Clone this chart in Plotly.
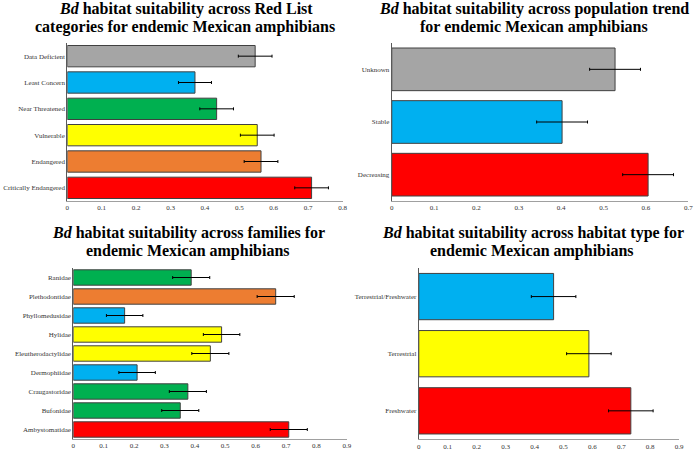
import plotly.graph_objects as go

GRAY = "#a5a5a5"; BLUE = "#00b0f0"; GREEN = "#00b050"; YELLOW = "#ffff00"; ORANGE = "#ed7d31"; RED = "#ff0000"

# Panel 1: Red List categories (bottom to top)
redlist_cats = ["Critically Endangered", "Endangered", "Vulnerable", "Near Threatened", "Least Concern", "Data Deficient"]
redlist_vals = [0.710, 0.563, 0.552, 0.434, 0.371, 0.546]
redlist_err = [0.049, 0.049, 0.049, 0.049, 0.048, 0.049]
redlist_cols = [RED, ORANGE, YELLOW, GREEN, BLUE, GRAY]

# Panel 2: population trend
trend_cats = ["Decreasing", "Stable", "Unknown"]
trend_vals = [0.605, 0.402, 0.527]
trend_err = [0.060, 0.060, 0.060]
trend_cols = [RED, BLUE, GRAY]

# Panel 3: families
fam_cats = ["Ambystomatidae", "Bufonidae", "Craugastoridae", "Dermophiidae", "Eleutherodactylidae",
            "Hylidae", "Phyllomedusidae", "Plethodontidae", "Ranidae"]
fam_vals = [0.709, 0.352, 0.377, 0.210, 0.451, 0.488, 0.169, 0.666, 0.388]
fam_err = [0.061, 0.061, 0.061, 0.060, 0.061, 0.060, 0.060, 0.061, 0.061]
fam_cols = [RED, GREEN, GREEN, BLUE, YELLOW, YELLOW, BLUE, ORANGE, GREEN]

# Panel 4: habitat type
hab_cats = ["Freshwater", "Terrestrial", "Terrestrial/Freshwater"]
hab_vals = [0.733, 0.588, 0.466]
hab_err = [0.077, 0.077, 0.077]
hab_cols = [RED, YELLOW, BLUE]

W, H = 699, 452
SERIF = "Liberation Serif"

fig = go.Figure()

panels = [
    (redlist_cats, redlist_vals, redlist_err, redlist_cols, "x", "y"),
    (trend_cats, trend_vals, trend_err, trend_cols, "x2", "y2"),
    (fam_cats, fam_vals, fam_err, fam_cols, "x3", "y3"),
    (hab_cats, hab_vals, hab_err, hab_cols, "x4", "y4"),
]
for cats, vals, errs, cols, xa, ya in panels:
    fig.add_trace(go.Bar(
        y=cats, x=vals, orientation="h", xaxis=xa, yaxis=ya,
        marker=dict(color=cols, line=dict(color="#404040", width=1)),
        error_x=dict(type="data", array=errs, visible=True, color="black", thickness=1, width=1.5),
        showlegend=False,
    ))

def px_x(p):
    return p / W

def px_y(p):
    return 1 - p / H

tickfont = dict(family=SERIF, size=7, color="#333333")

def xax(dom, rng, dt):
    return dict(domain=[px_x(dom[0]), px_x(dom[1])], range=rng, dtick=dt, tick0=0,
                showline=True, linecolor="#a0a0a0", linewidth=1, showgrid=False, zeroline=False,
                ticks="", tickfont=tickfont, tickformat="~g", fixedrange=True)

def yax(dom, anchor):
    return dict(domain=[px_y(dom[1]), px_y(dom[0])], anchor=anchor, showline=True, linecolor="#595959",
                linewidth=1, showgrid=False, zeroline=False, ticks="", tickfont=tickfont, fixedrange=True)

fig.update_layout(
    width=W, height=H, margin=dict(l=0, r=0, t=0, b=0),
    paper_bgcolor="white", plot_bgcolor="white",
    bargap=0.19,
    xaxis=dict(xax((66, 344), [0, 0.8], 0.1), anchor="y"),
    yaxis=yax((43, 201), "x"),
    xaxis2=dict(xax((393.7, 693.3), [0, 0.7], 0.1), anchor="y2"),
    yaxis2=yax((43, 201), "x2"),
    xaxis3=dict(xax((72, 348.3), [0, 0.9], 0.1), anchor="y3"),
    yaxis3=yax((268, 439), "x3"),
    xaxis4=dict(xax((421, 684), [0, 0.9], 0.1), anchor="y4"),
    yaxis4=yax((268, 439.4), "x4"),
)

BD = "<i><b>Bd</b></i>"
titles = [
    (BD + "<b> habitat suitability across Red List</b>", 186, 9),
    ("<b>categories for endemic Mexican amphibians</b>", 185, 27),
    (BD + "<b> habitat suitability across population trend</b>", 537, 9),
    ("<b>for endemic Mexican amphibians</b>", 537, 27),
    (BD + "<b> habitat suitability across families for</b>", 188, 233),
    ("<b>endemic Mexican amphibians</b>", 188, 251),
    (BD + "<b> habitat suitability across habitat type for</b>", 536.5, 233),
    ("<b>endemic Mexican amphibians</b>", 535.5, 251),
]
for txt, cx, cy in titles:
    fig.add_annotation(text=txt, x=px_x(cx), y=px_y(cy), xref="paper", yref="paper",
                       xanchor="center", yanchor="middle", showarrow=False,
                       font=dict(family=SERIF, size=16, color="black"))

fig.write_html("out.html")
